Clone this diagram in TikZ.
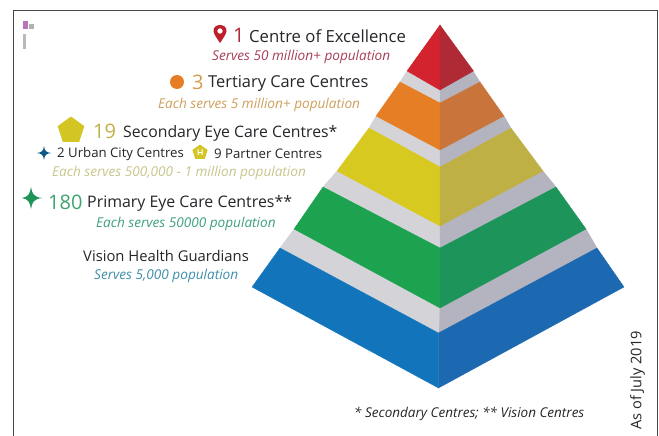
\documentclass[tikz,border=0pt]{standalone}
\usepackage{fontspec}
\setmainfont{Open Sans}
\usetikzlibrary{shapes.geometric}
\definecolor{redL}{HTML}{D2232F}\definecolor{redR}{HTML}{B02A36}
\definecolor{orL}{HTML}{E57E25}\definecolor{orR}{HTML}{C8743A}
\definecolor{yeL}{HTML}{D7C91F}\definecolor{yeR}{HTML}{BFB045}
\definecolor{grL}{HTML}{1DA24F}\definecolor{grR}{HTML}{1D9459}
\definecolor{blL}{HTML}{1275BB}\definecolor{blR}{HTML}{1C69B1}
\definecolor{gyL}{HTML}{D4D4D8}\definecolor{gyR}{HTML}{B4B4C0}
\definecolor{ink}{HTML}{26262A}
\definecolor{subred}{HTML}{A8405A}
\definecolor{suborange}{HTML}{CFA05C}
\definecolor{subyellow}{HTML}{C9C58C}
\definecolor{subgreen}{HTML}{3F9F80}
\definecolor{subblue}{HTML}{3F8FAA}
\tikzset{
  lab/.style={inner sep=0pt,anchor=west,text=ink},
  sublab/.style={inner sep=0pt,anchor=west,font=\fontsize{13.6}{16}\itshape},
  numlab/.style={inner sep=0pt,anchor=west,font=\fontsize{20}{23}\selectfont},
  smalllab/.style={inner sep=0pt,anchor=west,text=ink,font=\fontsize{13.2}{15}\selectfont},
  face/.style={fill=#1,draw=#1,line width=0.3pt},
}
\begin{document}
\begin{tikzpicture}[x=1pt,y=-1pt]
\useasboundingbox (0,0) rectangle (659,436);
\fill[white] (0,0) rectangle (659,436);
\draw[line width=0.8pt,color=ink!85] (13,436) -- (13,10.5) -- (657.5,10.5) -- (657.5,436);
% grey bands
\fill[face=gyL] (407,71) -- (440,90) -- (440,103) -- (400,82) -- cycle;
\fill[face=gyR] (473,71) -- (440,90) -- (440,103) -- (480,82) -- cycle;
\fill[face=gyL] (376,116) -- (440,150) -- (440,167) -- (369,128) -- cycle;
\fill[face=gyR] (504,116) -- (440,150) -- (440,167) -- (511,128) -- cycle;
\fill[face=gyL] (337,171) -- (440,226) -- (440,248) -- (323,187) -- cycle;
\fill[face=gyR] (543,171) -- (440,226) -- (440,248) -- (556,187) -- cycle;
\fill[face=gyL] (294,229) -- (440,308) -- (439,333) -- (280,248) -- cycle;
\fill[face=gyR] (586,229) -- (440,308) -- (439,333) -- (597,248) -- cycle;
% coloured tiers
\fill[face=redL] (440,25) -- (407,71) -- (440,90) -- cycle;
\fill[face=redR] (440,25) -- (473.5,71) -- (440,90) -- cycle;
\fill[face=orL] (440,103) -- (400,82) -- (376,116) -- (440,150) -- cycle;
\fill[face=orR] (440,103) -- (480,82) -- (504,116) -- (440,150) -- cycle;
\fill[face=yeL] (440,167) -- (369,128) -- (337,171) -- (440,226) -- cycle;
\fill[face=yeR] (440,167) -- (511,128) -- (543,171) -- (440,226) -- cycle;
\fill[face=grL] (440,248) -- (323,187) -- (294,229) -- (440,308) -- cycle;
\fill[face=grR] (440,248) -- (556,187) -- (586,229) -- (440,308) -- cycle;
\fill[face=blL] (438.5,333) -- (280,248) -- (252,287) -- (438.5,388) -- cycle;
\fill[face=blR] (438.5,333) -- (597,248) -- (624,287) -- (438.5,388) -- cycle;
% small mark top left
\fill[violet!55] (23,21) rectangle (28,29);
\fill[gray!60] (28.5,24) rectangle (34,29);
\fill[gray!55] (23,34) rectangle (26,49);
% pin
\fill[redL!90!black,even odd rule] (220,43) .. controls (216,37) and (213.5,33.5) .. (213.5,31) .. controls (213.5,27) and (216.5,25) .. (220,25) .. controls (223.5,25) and (226.5,27) .. (226.5,31) .. controls (226.5,33.5) and (224,37) .. (220,43) -- cycle (222.8,31) arc (0:360:2.8);
\node[numlab,text=redR] (n1) at (233,35.5) {1};
\node[lab,font=\fontsize{16.7}{20}\selectfont] (t1) at (249,36) {Centre of Excellence};
\node[sublab,text=subred] (s1) at (212,56.5) {Serves 50 million+ population};
% tier 2
\node[circle,fill=orL,minimum size=14pt,inner sep=0pt] (i2) at (177,82) {};
\node[numlab,text=suborange!85!orange] (n2) at (192,82.5) {3};
\node[lab,font=\fontsize{16.4}{20}\selectfont] (t2) at (208,83.5) {Tertiary Care Centres};
\node[sublab,text=suborange] (s2) at (158,104.5) {Each serves 5 million+ population};
% tier 3
\node[regular polygon,regular polygon sides=5,fill=yeL!95!gray,minimum size=28pt,inner sep=0pt] (i3) at (71,130.5) {};
\node[numlab,text=yeR] (n3) at (93,131) {19};
\node[lab,font=\fontsize{15.8}{19}\selectfont] (t3) at (123,133.5) {Secondary Eye Care Centres*};
\fill[blL!75!black] (44,146) .. controls (44.7,151) and (46,152.3) .. (51,153) .. controls (46,153.7) and (44.7,155) .. (44,160) .. controls (43.3,155) and (42,153.7) .. (37,153) .. controls (42,152.3) and (43.3,151) .. (44,146) -- cycle;
\node[smalllab] (u3) at (57,154) {2 Urban City Centres};
\node[regular polygon,regular polygon sides=5,fill=yeL!95!gray,minimum size=16pt,inner sep=0pt] (p3) at (200,152.5) {};
\fill[white] (197.5,149) rectangle (198.5,155) (201.5,149) rectangle (202.5,155) (198,152) rectangle (202,153);
\node[smalllab] (q3) at (214,154) {9 Partner Centres};
\node[sublab,text=subyellow] (s3) at (52,172.5) {Each serves 500,000 - 1 million population};
% tier 4
\fill[grR] (31,187) .. controls (32,194) and (34,197) .. (42,198) .. controls (34,199) and (32,202) .. (31,209) .. controls (30,202) and (28,199) .. (22,198) .. controls (28,197) and (30,194) .. (31,187) -- cycle;
\node[numlab,text=grR!85!white] (n4) at (48,202.5) {180};
\node[lab,font=\fontsize{15.9}{19}\selectfont] (t4) at (87,203.5) {Primary Eye Care Centres**};
\node[sublab,text=subgreen] (s4) at (96,223.5) {Each serves 50000 population};
% tier 5
\node[lab,font=\fontsize{14.8}{18}\selectfont] (t5) at (83,256) {Vision Health Guardians};
\node[sublab,text=subblue] (s5) at (94,275.5) {Serves 5,000 population};
% notes
\node[lab,font=\fontsize{13.5}{16}\itshape] (f) at (354,414) {* Secondary Centres; ** Vision Centres};
\node[lab,rotate=90,font=\fontsize{14.6}{18}\selectfont] (a) at (637.5,430) {As of July 2019};
\end{tikzpicture}
\end{document}
